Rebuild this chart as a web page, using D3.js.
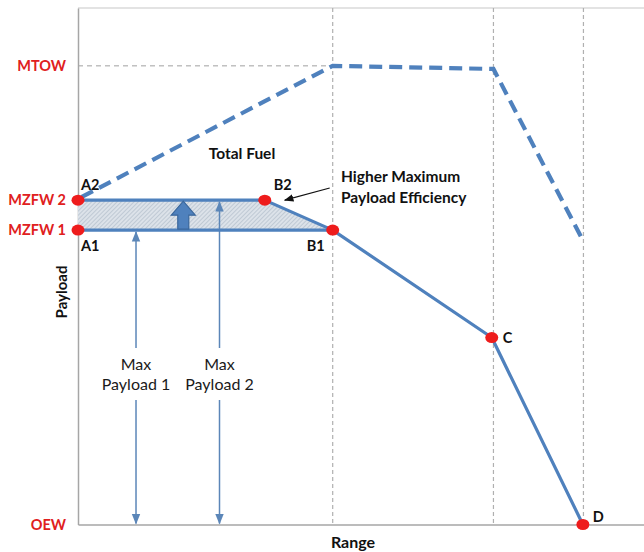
<!DOCTYPE html>
<html><head><meta charset="utf-8">
<script src="https://cdn.jsdelivr.net/npm/d3@7"></script>
<style>
html,body{margin:0;padding:0;background:#fff;}
svg{display:block;font-family:Lato,"Open Sans",sans-serif;}
</style></head>
<body><svg id="c" width="644" height="552"></svg>
<script>
// ---- data (abstract units: range 0-100, payload/weight 0-100) ----
const weightLevels = [
  {name: "MTOW",   value: 88.8},
  {name: "MZFW 2", value: 62.8},
  {name: "MZFW 1", value: 57.0},
  {name: "OEW",    value: 0}
];
const gridRanges = [45, 73.4, 89.3];
const payloadLine1 = [ // A1 -> B1 -> C -> D
  {label: "A1", x: 0,    y: 57.0},
  {label: "B1", x: 45,   y: 57.0},
  {label: "C",  x: 73.1, y: 36.2},
  {label: "D",  x: 89.2, y: 0}
];
const payloadLine2 = [ // A2 -> B2 -> B1
  {label: "A2", x: 0,    y: 62.8},
  {label: "B2", x: 33.0, y: 62.8},
  {label: "B1", x: 45,   y: 57.0}
];
const totalFuelLine = [
  {x: 0.6,  y: 63.4},
  {x: 45,   y: 88.8},
  {x: 73.4, y: 88.2},
  {x: 89.4, y: 54.6}
];
const redPoints = [
  {label: "A2", x: 0,    y: 62.8},
  {label: "A1", x: 0,    y: 57.0},
  {label: "B2", x: 33.0, y: 62.8},
  {label: "B1", x: 45,   y: 57.0},
  {label: "C",  x: 73.1, y: 36.2},
  {label: "D",  x: 89.2, y: 0}
];
const maxPayloadArrows = [
  {x: 10.25, top: 57.0, lines: ["Max", "Payload 1"]},
  {x: 25.0,  top: 62.8, lines: ["Max", "Payload 2"]}
];
const upArrow = {x: 18.6, from: 57.0, to: 62.8};

// ---- layout ----
const svg = d3.select("#c");
const x = d3.scaleLinear().domain([0, 100]).range([78, 644]);
const y = d3.scaleLinear().domain([0, 100]).range([524.5, 8]);
const blue = "#4f81bd", red = "#ee1c1c", labelRed = "#e02020", gray = "#a6a6a6";

// hatch pattern
const defs = svg.append("defs");
const pat = defs.append("pattern").attr("id", "hatch").attr("patternUnits", "userSpaceOnUse")
  .attr("width", 3).attr("height", 3).attr("patternTransform", "rotate(45)");
pat.append("rect").attr("width", 3).attr("height", 3).attr("fill", "#dce2e9");
pat.append("line").attr("x1", 0).attr("y1", 0).attr("x2", 0).attr("y2", 3)
  .attr("stroke", "#a3b1c0").attr("stroke-width", 1);
defs.append("marker").attr("id", "ah").attr("viewBox", "0 0 10 10").attr("refX", 9).attr("refY", 5)
  .attr("markerWidth", 7).attr("markerHeight", 7).attr("orient", "auto-start-reverse")
  .append("path").attr("d", "M0,1 L10,5 L0,9 Z").attr("fill", "#5b86b8");
defs.append("marker").attr("id", "ahk").attr("viewBox", "0 0 10 10").attr("refX", 9).attr("refY", 5)
  .attr("markerWidth", 8).attr("markerHeight", 8).attr("orient", "auto")
  .append("path").attr("d", "M0,1 L10,5 L0,9 Z").attr("fill", "#111");

// frame: top border and axes
svg.append("line").attr("x1", x(0)).attr("x2", x(100)).attr("y1", y(100)).attr("y2", y(100))
  .attr("stroke", "#c8c8c8").attr("stroke-width", 1.2);
// vertical dashed grid
svg.selectAll(".grid").data(gridRanges).join("line")
  .attr("x1", d => x(d)).attr("x2", d => x(d)).attr("y1", y(100)).attr("y2", y(0))
  .attr("stroke", "#b0b0b0").attr("stroke-width", 1.2).attr("stroke-dasharray", "4,3");
// MTOW horizontal dashed
svg.append("line").attr("x1", x(0)).attr("x2", x(gridRanges[0])).attr("y1", y(weightLevels[0].value)).attr("y2", y(weightLevels[0].value))
  .attr("stroke", "#a0a0a0").attr("stroke-width", 1).attr("stroke-dasharray", "5,4");

// axes (no ticks)
const yAxis = svg.append("g").attr("transform", `translate(${x(0)},0)`)
  .call(d3.axisLeft(y).tickValues(weightLevels.map(d => d.value)).tickFormat((v, i) => weightLevels[i].name).tickSize(0).tickPadding(12));
yAxis.select(".domain").attr("stroke", gray).attr("stroke-width", 1.5);
yAxis.selectAll("text").attr("fill", labelRed).attr("font-size", 14.5).attr("font-weight", 700).attr("font-family", "Lato, sans-serif");
const xAxis = svg.append("g").attr("transform", `translate(0,${y(0)})`)
  .call(d3.axisBottom(x).tickValues([]).tickSize(0));
xAxis.select(".domain").attr("stroke", gray).attr("stroke-width", 1.5);

// shaded region
svg.append("path").datum([payloadLine1[0], payloadLine2[0], payloadLine2[1], payloadLine1[1]])
  .attr("d", d3.line().x(d => x(d.x)).y(d => y(d.y)))
  .attr("fill", "url(#hatch)").attr("stroke", "none");

// max payload thin arrows
maxPayloadArrows.forEach(a => {
  const gapTop = 348, gapBot = 400;
  svg.append("line").attr("x1", x(a.x)).attr("x2", x(a.x)).attr("y1", gapTop).attr("y2", y(a.top) + 2)
    .attr("stroke", "#5b86b8").attr("stroke-width", 1.5).attr("marker-end", "url(#ah)");
  svg.append("line").attr("x1", x(a.x)).attr("x2", x(a.x)).attr("y1", gapBot).attr("y2", y(0) - 1)
    .attr("stroke", "#5b86b8").attr("stroke-width", 1.5).attr("marker-end", "url(#ah)");
  a.lines.forEach((t, i) => svg.append("text").attr("x", x(a.x)).attr("y", 370 + i * 20)
    .attr("text-anchor", "middle").attr("font-size", 16).attr("fill", "#1a1a1a").text(t));
});

// solid payload lines
const line = d3.line().x(d => x(d.x)).y(d => y(d.y));
svg.append("path").datum(payloadLine1).attr("d", line).attr("fill", "none")
  .attr("stroke", blue).attr("stroke-width", 3.2).attr("stroke-linejoin", "round");
svg.append("path").datum(payloadLine2).attr("d", line).attr("fill", "none")
  .attr("stroke", blue).attr("stroke-width", 3.2).attr("stroke-linejoin", "round");
// total fuel dashed
svg.append("path").datum(totalFuelLine).attr("d", line).attr("fill", "none")
  .attr("stroke", blue).attr("stroke-width", 4.2).attr("stroke-dasharray", "13,7");

// block up-arrow
{
  const cx = x(upArrow.x), yb = y(upArrow.from) - 1, yt = y(upArrow.to) + 1;
  const sw = 5.5, hw = 12, hh = 14;
  svg.append("path").attr("d",
    `M${cx - sw},${yb} L${cx - sw},${yt + hh} L${cx - hw},${yt + hh} L${cx},${yt} L${cx + hw},${yt + hh} L${cx + sw},${yt + hh} L${cx + sw},${yb} Z`)
    .attr("fill", "#4f81bd").attr("stroke", "#3a679c").attr("stroke-width", 1.2);
}

// red points
svg.selectAll(".pt").data(redPoints).join("ellipse")
  .attr("cx", d => x(d.x)).attr("cy", d => y(d.y)).attr("rx", 6.5).attr("ry", 5.5).attr("fill", red);

// point labels
const ptOffsets = {A2: [3, -10], A1: [3, 21], B2: [9, -10], B1: [-26, 21], C: [11, 5], D: [10, -3]};
svg.selectAll(".pl").data(redPoints).join("text")
  .attr("x", d => x(d.x) + ptOffsets[d.label][0]).attr("y", d => y(d.y) + ptOffsets[d.label][1])
  .attr("font-size", 14.5).attr("font-weight", 700).attr("fill", "#111").text(d => d.label);

// annotations
svg.append("text").attr("x", 242).attr("y", 159).attr("text-anchor", "middle")
  .attr("font-size", 15.5).attr("font-weight", 700).attr("fill", "#111").text("Total Fuel");
svg.append("text").attr("x", 341).attr("y", 182).attr("font-size", 15.5).attr("font-weight", 700).attr("fill", "#111").text("Higher Maximum");
svg.append("text").attr("x", 341).attr("y", 203).attr("font-size", 15.5).attr("font-weight", 700).attr("fill", "#111").text("Payload Efficiency");
svg.append("line").attr("x1", x(gridRanges[0]) - 3).attr("y1", 188).attr("x2", x(payloadLine2[1].x) + 20).attr("y2", y(payloadLine2[1].y))
  .attr("stroke", "#111").attr("stroke-width", 1.2).attr("marker-end", "url(#ahk)");

// axis titles
svg.append("text").attr("transform", `translate(67,292) rotate(-90)`).attr("text-anchor", "middle")
  .attr("font-size", 15).attr("font-weight", 700).attr("fill", "#111").text("Payload");
svg.append("text").attr("x", 353).attr("y", 548).attr("text-anchor", "middle")
  .attr("font-size", 16).attr("font-weight", 700).attr("fill", "#111").text("Range");
</script></body></html>
